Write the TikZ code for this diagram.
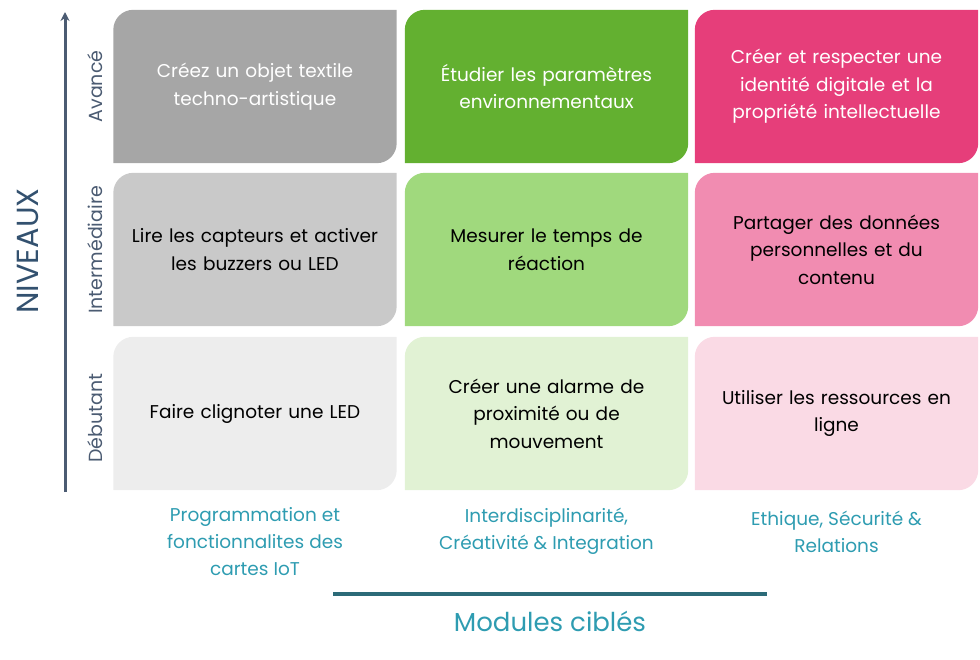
\documentclass[tikz,border=0pt]{standalone}
\usepackage{fontspec}
\setmainfont{Poppins}
\usepackage{tikz}
\usetikzlibrary{arrows.meta,backgrounds}
\definecolor{grayA}{HTML}{A6A6A6}
\definecolor{grayB}{HTML}{C9C9C9}
\definecolor{grayC}{HTML}{EDEDED}
\definecolor{greenA}{HTML}{63B030}
\definecolor{greenB}{HTML}{A0D97D}
\definecolor{greenC}{HTML}{E1F2D4}
\definecolor{pinkA}{HTML}{E63E7A}
\definecolor{pinkB}{HTML}{F18CB1}
\definecolor{pinkC}{HTML}{FADAE5}
\definecolor{axisC}{HTML}{4B5B72}
\definecolor{nivC}{HTML}{33516F}
\definecolor{modC}{HTML}{2E9CB1}
\definecolor{lineC}{HTML}{2C6B78}
\tikzset{
  cell/.style={minimum width=283pt,minimum height=153pt,inner sep=0pt,
    text width=275pt,align=center,font=\fontsize{18.5}{27.5}\selectfont},
  lvl/.style={rotate=90,text=axisC,font=\fontsize{19}{22}\selectfont},
  modlbl/.style={text=modC,align=center,font=\fontsize{18.5}{27}\selectfont}
}

\begin{document}
\begin{tikzpicture}[x=1pt,y=-1pt,>=Stealth]
\useasboundingbox (0,0) rectangle (980,659);
% cells
\node[cell,text=white] (c11) at (255,86.5) {Créez un objet textile\\techno-artistique};
\node[cell,text=white] (c12) at (546.5,86.5) {Étudier les paramètres\\environnementaux};
\node[cell,text=white] (c13) at (836.5,86.5) {Créer et respecter une\\identité digitale et la\\propriété intellectuelle};
\node[cell] (c21) at (255,249.5) {Lire les capteurs et activer\\les buzzers ou LED};
\node[cell] (c22) at (546.5,249.5) {Mesurer le temps de\\réaction};
\node[cell] (c23) at (836.5,249.5) {Partager des données\\personnelles et du\\contenu};
\node[cell] (c31) at (255,413.5) {Faire clignoter une LED};
\node[cell] (c32) at (546.5,413.5) {Créer une alarme de\\proximité ou de\\mouvement};
\node[cell] (c33) at (836.5,413.5) {Utiliser les ressources en\\ligne};
\begin{scope}[on background layer]
\foreach \n/\c in {c11/grayA,c12/greenA,c13/pinkA,c21/grayB,c22/greenB,c23/pinkB,c31/grayC,c32/greenC,c33/pinkC}
  \fill[\c] (\n.south west) -- ([yshift=-20pt]\n.north west) arc[start angle=180,end angle=90,radius=20pt]
    -- (\n.north east) -- ([yshift=20pt]\n.south east) arc[start angle=0,end angle=-90,radius=20pt] -- cycle;
\end{scope}
% levels
\coordinate (axbot) at (65,492);
\coordinate (axtop) at (65,12);
\draw[->,axisC,line width=3pt,>={Stealth[length=9pt,width=9pt]}] (axbot) -- (axtop);
\node[lvl] (avance) at (95,86.5) {Avancé};
\node[lvl] (inter) at (95,250) {Intermédiaire};
\node[lvl] (debut) at (95,418) {Débutant};
\node[rotate=90,text=nivC,font=\fontsize{30.5}{32}\selectfont] (niv) at (28,251) {NIVEAUX};
% modules
\node[modlbl] (m1) at (255,542) {Programmation et\\fonctionnalites des\\cartes IoT};
\node[modlbl] (m2) at (546.5,531.5) {Interdisciplinarité,\\Créativité \& Integration};
\node[modlbl] (m3) at (836.5,531.5) {Ethique, Sécurité \&\\Relations};
\coordinate (ml) at (333,594);
\coordinate (mr) at (767,594);
\draw[lineC,line width=4pt] (ml) -- (mr);
\node[text=modC,font=\fontsize{26}{30}\selectfont] (mod) at (550,621) {Modules ciblés};
\end{tikzpicture}
\end{document}
